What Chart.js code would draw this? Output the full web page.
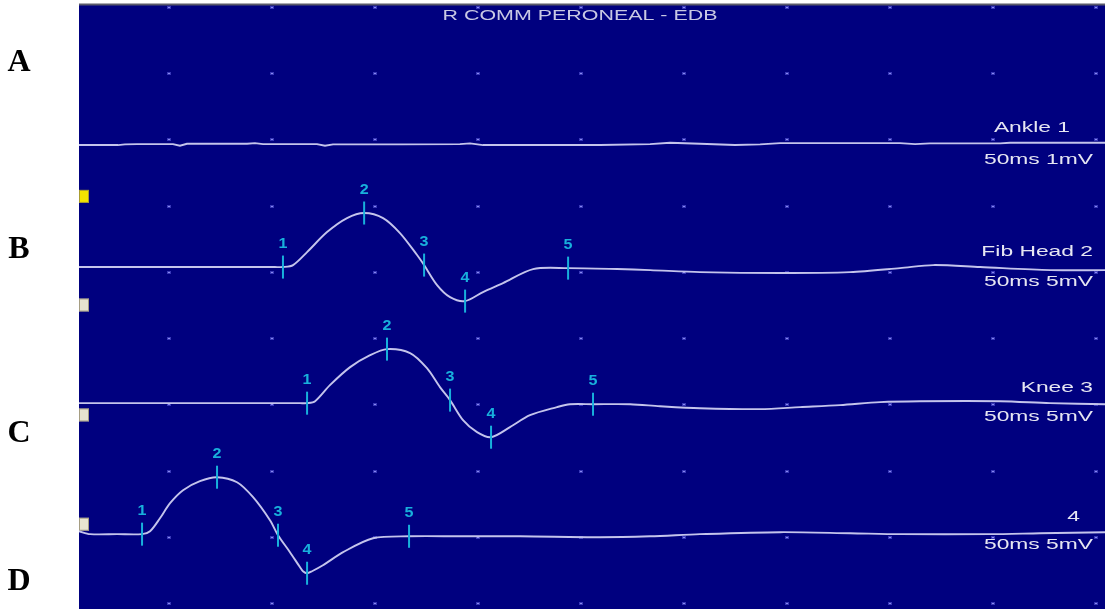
<!DOCTYPE html>
<html>
<head>
<meta charset="utf-8">
<title>R COMM PERONEAL - EDB</title>
<script src="https://cdn.jsdelivr.net/npm/chart.js@4/dist/chart.umd.min.js"></script>
<style>
  html, body { margin: 0; padding: 0; background: #ffffff; }
  #wrap { position: relative; width: 1105px; height: 609px; }
  canvas { display: block; }
</style>
</head>
<body>
<div id="wrap"><canvas id="ncs" width="1105" height="609"></canvas></div>
<script>
// ---- Recording settings ----
const studyTitle = 'R COMM PERONEAL - EDB';
const siteNames = ['Ankle 1', 'Fib Head 2', 'Knee 3', '4'];
const sweepText = ['50ms 1mV', '50ms 5mV', '50ms 5mV', '50ms 5mV'];
const sensitivityMv = [1, 5, 5, 5];          // mV per division
const markerNumbers = ['1', '2', '3', '4', '5'];
const panelLetters = ['A', 'B', 'C', 'D'];

// ---- Site 1: ankle (no response), time in ms, amplitude in mV ----
const ankleMs = [0.63, 2.52, 2.86, 3.45, 5.19, 5.53, 5.87, 8.79, 9.17, 9.56, 12.18, 12.57, 12.96, 16.21,
  19.12, 19.61, 20.24, 25.92, 28.35, 29.32, 30.77, 32.47, 33.69, 34.66, 40.48, 41.21, 41.94, 45.34, 45.82, 50.43];
const ankleMv = [0, 0, 0.01, 0.015, 0.015, -0.01, 0.02, 0.02, 0.03, 0.015, 0.015, -0.01, 0.01, 0.01,
  0.015, 0.025, 0, 0, 0.015, 0.035, 0.02, 0, 0.01, 0.03, 0.03, 0.015, 0.025, 0.025, 0.035, 0.035];
const ankleMarksMs = [];

// ---- Site 2: fibular head ----
const fibHeadMs = [0.63, 6.50, 10.14, 10.53, 11.02, 11.70, 12.67, 13.64, 14.47, 15.39, 16.21, 17.04, 17.38,
  18.01, 18.64, 19.37, 20.24, 21.21, 22.67, 24.37, 26.75, 28.35, 30.77, 34.66, 38.06, 40.48, 42.09, 44.37, 47.77, 50.43];
const fibHeadMv = [0, 0, 0, 0, 0.15, 1.13, 2.64, 3.70, 4.08, 3.70, 2.57, 0.91, 0.15,
  -1.36, -2.27, -2.57, -1.89, -1.21, -0.15, -0.08, -0.15, -0.23, -0.38, -0.45, -0.38, -0.08, 0.15, 0, -0.23, -0.23];
const fibHeadMarksMs = [10.53, 14.47, 17.38, 19.37, 24.37];

// ---- Site 3: knee ----
const kneeMs = [0.63, 6.50, 11.36, 11.70, 12.09, 12.81, 13.79, 14.76, 15.58, 16.70, 17.52, 18.15, 18.64, 19.27,
  19.95, 20.63, 21.55, 22.52, 23.83, 24.46, 25.58, 27.38, 28.83, 30.77, 33.69, 35.63, 37.57, 39.51, 41.45, 45.34, 47.76, 50.43];
const kneeMv = [0, 0, 0, 0, 0.15, 1.36, 2.72, 3.62, 4.08, 3.78, 2.64, 1.21, 0.23, -1.28,
  -2.19, -2.57, -1.81, -0.91, -0.30, -0.08, -0.08, -0.08, -0.23, -0.38, -0.45, -0.30, -0.15, 0.08, 0.15, 0.15, 0, -0.08];
const kneeMarksMs = [11.70, 15.58, 18.64, 20.63, 25.58];

// ---- Site 4 ----
const site4Ms = [0.63, 1.17, 2.48, 3.69, 4.08, 4.56, 5.05, 5.68, 6.50, 7.33, 8.30, 9.08, 9.90, 10.29, 10.87,
  11.36, 11.50, 11.70, 11.94, 12.47, 13.45, 14.90, 16.65, 19.12, 22.04, 25.92, 28.35, 30.77, 34.66, 38.06, 40.48, 44.85, 47.28, 50.43];
const site4Mv = [0.30, 0.08, 0.08, 0.08, 0.30, 1.28, 2.42, 3.40, 4.08, 4.38, 4.00, 2.87, 1.13, 0, -1.28,
  -2.42, -2.72, -2.87, -2.72, -2.27, -1.28, -0.23, -0.08, -0.08, -0.08, -0.15, -0.08, 0.08, 0.23, 0.15, 0.08, 0.08, 0.15, 0.23];
const site4MarksMs = [3.69, 7.33, 10.29, 11.70, 16.65];

// ---- Screen layout (divisions counted down from the top grid row) ----
const baselineDiv = [2.085, 3.927, 5.982, 7.976];
const tabDiv = [2.86, 4.50, 6.16, 7.81];
const tabColor = ['#f4e400', '#e8e4d0', '#e8e4d0', '#e8e4d0'];

const traceMs = [ankleMs, fibHeadMs, kneeMs, site4Ms];
const traceMv = [ankleMv, fibHeadMv, kneeMv, site4Mv];
const marksMs = [ankleMarksMs, fibHeadMarksMs, kneeMarksMs, site4MarksMs];

const TRACE_COLOR = '#c4c4ec';
const MARK_COLOR = '#18b0dc';
const SCREEN_BG = '#00007f';
const FONT = '"Liberation Sans", Arial, sans-serif';

function toDiv(site, mv) {
  return baselineDiv[site] - mv / sensitivityMv[site];
}

const datasets = [];
traceMs.forEach((ms, s) => {
  datasets.push({
    type: 'line',
    label: siteNames[s],
    data: ms.map((t, i) => ({ x: t, y: toDiv(s, traceMv[s][i]) })),
    borderColor: TRACE_COLOR,
    borderWidth: 1.9,
    pointRadius: 0,
    fill: false,
    tension: s === 0 ? 0 : 0.3,
    order: 2
  });
});
marksMs.forEach((marks, s) => {
  if (!marks.length) return;
  datasets.push({
    type: 'scatter',
    label: siteNames[s] + ' markers',
    data: marks.map(t => ({ x: t, y: toDiv(s, traceMv[s][traceMs[s].indexOf(t)]) })),
    pointStyle: 'line',
    rotation: 90,
    radius: 11.5,
    borderWidth: 2,
    borderColor: MARK_COLOR,
    backgroundColor: MARK_COLOR,
    order: 1
  });
});

function stretchedText(ctx, text, x, y, sx, align) {
  ctx.save();
  ctx.translate(x, y);
  ctx.scale(sx, 1);
  ctx.textAlign = align;
  ctx.fillText(text, 0, 0);
  ctx.restore();
}

// Screen background, dot grid, channel tabs and annotation text
const screenPlugin = {
  id: 'screen',
  beforeDraw(chart) {
    const { ctx, chartArea: a } = chart;
    ctx.save();
    ctx.fillStyle = '#ffffff';
    ctx.fillRect(0, 0, chart.width, chart.height);
    ctx.fillStyle = SCREEN_BG;
    ctx.fillRect(a.left, a.top, a.right - a.left, a.bottom - a.top);
    ctx.fillStyle = '#5a5a6a';
    ctx.fillRect(a.left, a.top - 1.5, a.right - a.left, 2);
    ctx.restore();
  },
  beforeDatasetsDraw(chart) {
    const { ctx, chartArea: a, scales: { x, y } } = chart;
    ctx.save();
    for (let t = 5; t <= 50; t += 5) {
      for (let d = 0; d <= 9; d++) {
        const px = Math.round(x.getPixelForValue(t));
        const py = Math.round(y.getPixelForValue(d));
        if (px < a.left || px > a.right) continue;
        ctx.fillStyle = 'rgba(100,100,230,0.55)';
        ctx.fillRect(px - 2, py - 1, 4, 3);
        ctx.fillStyle = '#8a8af0';
        ctx.fillRect(px - 1, py, 2, 1);
      }
    }
    // channel tabs at the left edge
    tabDiv.forEach((d, i) => {
      const py = y.getPixelForValue(d);
      ctx.fillStyle = tabColor[i];
      ctx.fillRect(a.left, py - 6.5, 10, 13);
      ctx.strokeStyle = 'rgba(120,110,80,0.6)';
      ctx.lineWidth = 1;
      ctx.strokeRect(a.left + 0.5, py - 6, 9, 12);
    });
    ctx.restore();
  },
  afterDatasetsDraw(chart) {
    const { ctx, chartArea: a, scales: { y } } = chart;
    ctx.save();
    ctx.textBaseline = 'middle';

    // title
    ctx.fillStyle = '#c8c8e4';
    ctx.font = '14px ' + FONT;
    stretchedText(ctx, studyTitle, 580, a.top + 11, 1.53, 'center');

    // site names and sweep settings
    const nameRight = [1070, 1093, 1093, 1080];
    const nameDy = [-17, -15, -15, -18];
    const sweepDy = [15, 15, 14, 10];
    ctx.fillStyle = '#e6e6f2';
    siteNames.forEach((name, s) => {
      const base = y.getPixelForValue(baselineDiv[s]);
      stretchedText(ctx, name, nameRight[s], base + nameDy[s], 1.63, 'right');
      stretchedText(ctx, sweepText[s], 1093, base + sweepDy[s], 1.63, 'right');
    });

    // marker numbers
    ctx.fillStyle = MARK_COLOR;
    ctx.font = 'bold 14px ' + FONT;
    chart.data.datasets.forEach((ds, i) => {
      if (ds.type !== 'scatter') return;
      chart.getDatasetMeta(i).data.forEach((pt, j) => {
        stretchedText(ctx, markerNumbers[j], pt.x, pt.y - 23, 1.15, 'center');
      });
    });

    // panel letters
    ctx.fillStyle = '#000000';
    ctx.font = 'bold 32px "Liberation Serif", "Times New Roman", serif';
    const letterY = [62, 249, 433, 581];
    panelLetters.forEach((l, i) => {
      ctx.textAlign = 'center';
      ctx.fillText(l, 19, letterY[i] + 1);
    });
    ctx.restore();
  }
};

new Chart(document.getElementById('ncs'), {
  data: { datasets },
  options: {
    responsive: false,
    animation: false,
    events: [],
    layout: { autoPadding: false, padding: { left: 79, top: 5, right: 0, bottom: 0 } },
    plugins: { legend: { display: false }, tooltip: { enabled: false } },
    scales: {
      x: { type: 'linear', display: false, min: 0.63, max: 50.43 },
      y: { type: 'linear', display: false, min: -0.03, max: 9.09, reverse: true }
    }
  },
  plugins: [screenPlugin]
});
</script>
</body>
</html>
